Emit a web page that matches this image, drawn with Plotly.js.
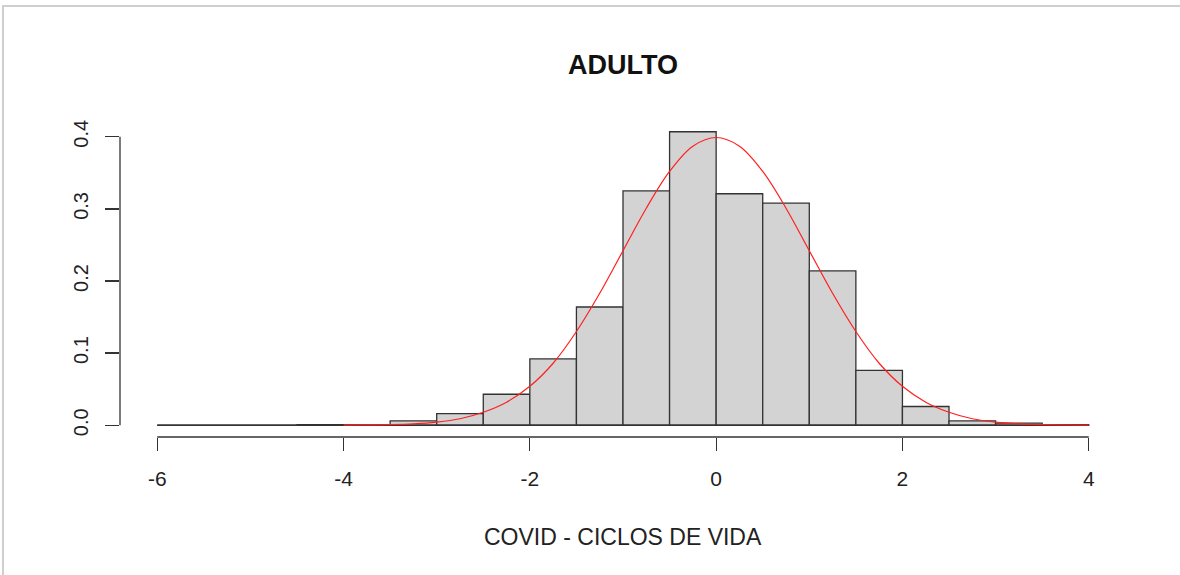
<!DOCTYPE html>
<html>
<head>
<meta charset="utf-8">
<script src="https://cdn.plot.ly/plotly-3.0.1.min.js"></script>
<style>
  html, body { margin: 0; padding: 0; background: #fff; }
  #wrap { position: relative; width: 1180px; height: 575px; overflow: hidden; }
  #chart { position: absolute; left: 0; top: 0; width: 1180px; height: 575px; }
  #frame { position: absolute; left: 2px; top: 5px; width: 1200px; height: 600px;
           border-top: 2px solid #cfcfcf; border-left: 2px solid #cfcfcf; pointer-events: none; }
</style>
</head>
<body>
<div id="wrap">
  <div id="chart"></div>
  <div id="frame"></div>
</div>
<script>
// Histogram breaks (bin edges) and densities
const breaks = [-6, -5.5, -5, -4.5, -4, -3.5, -3, -2.5, -2, -1.5, -1, -0.5, 0, 0.5, 1, 1.5, 2, 2.5, 3, 3.5, 4];
const density = [0, 0, 0, 0.001, 0.0005, 0.006, 0.016, 0.043, 0.092, 0.164, 0.325, 0.407, 0.321, 0.308, 0.214, 0.076, 0.026, 0.006, 0.003, 0.001];

// Red density curve points
const curveX = [-4, -3.75, -3.5, -3.25, -3, -2.75, -2.5, -2.25, -2, -1.75, -1.5, -1.25, -1, -0.75, -0.5, -0.25, 0, 0.25, 0.5, 0.75, 1, 1.25, 1.5, 1.75, 2, 2.25, 2.5, 2.75, 3, 3.25, 3.5, 3.75, 4];
const curveY = [0.0001, 0.0004, 0.0009, 0.002, 0.0044, 0.009, 0.018, 0.032, 0.054, 0.086, 0.130, 0.183, 0.242, 0.301, 0.352, 0.387, 0.399, 0.387, 0.352, 0.301, 0.242, 0.183, 0.130, 0.086, 0.054, 0.032, 0.018, 0.009, 0.0044, 0.002, 0.0009, 0.0004, 0.0001];

const xTicks = [-6, -4, -2, 0, 2, 4];
const yTicks = [0.0, 0.1, 0.2, 0.3, 0.4];
const yTickText = ['0.0', '0.1', '0.2', '0.3', '0.4'];

const titleText = 'ADULTO';
const xTitleText = 'COVID - CICLOS DE VIDA';

const centers = [], widths = [];
for (let i = 0; i < density.length; i++) {
  centers.push((breaks[i] + breaks[i + 1]) / 2);
  widths.push(breaks[i + 1] - breaks[i]);
}

const xMin = breaks[0], xMax = breaks[breaks.length - 1];
const xPad = (xMax - xMin) * 0.04;
const yMax = Math.max(...density);
const yPad = yMax * 0.04;

const traces = [
  {
    type: 'bar', x: centers, y: density, width: widths,
    marker: { color: '#d3d3d3', line: { color: '#333333', width: 1.3 } },
    hoverinfo: 'x+y', showlegend: false
  },
  {
    type: 'scatter', mode: 'lines', x: [xMin, xMax], y: [0, 0],
    line: { color: '#333333', width: 1.3 }, hoverinfo: 'skip', showlegend: false
  },
  {
    type: 'scatter', mode: 'lines', x: curveX, y: curveY,
    line: { color: '#ff2020', width: 1.2, shape: 'spline' }, hoverinfo: 'skip', showlegend: false
  }
];

const font = 'Liberation Sans, Arial, sans-serif';

const layout = {
  width: 1180, height: 575,
  margin: { l: 120, r: 54, t: 120, b: 138, pad: 0 },
  paper_bgcolor: 'rgba(0,0,0,0)', plot_bgcolor: 'rgba(0,0,0,0)',
  bargap: 0,
  showlegend: false,
  title: {
    text: '<b>' + titleText + '</b>',
    font: { family: font, size: 27, color: '#111' },
    x: 0.5, xref: 'paper', y: 1 - 65 / 575, yref: 'container', yanchor: 'middle'
  },
  xaxis: {
    range: [xMin - xPad, xMax + xPad],
    tickvals: xTicks, ticktext: xTicks.map(v => v < 0 ? '-' + Math.abs(v) : String(v)),
    ticks: 'outside', ticklen: 13, tickwidth: 1.3, tickcolor: '#333',
    ticklabelstandoff: 10,
    showline: false, showgrid: false, zeroline: false,
    tickfont: { family: font, size: 21, color: '#222' },
    fixedrange: true
  },
  yaxis: {
    range: [-yPad, yMax + yPad],
    tickvals: yTicks, ticktext: yTickText, tickangle: -90,
    ticks: 'outside', ticklen: 14, tickwidth: 1.3, tickcolor: '#333',
    ticklabelstandoff: 9,
    showline: false, showgrid: false, zeroline: false,
    tickfont: { family: font, size: 20, color: '#222' },
    fixedrange: true
  },
  shapes: [
    { type: 'line', xref: 'x', yref: 'paper', x0: xTicks[0], x1: xTicks[xTicks.length - 1], y0: 0, y1: 0,
      line: { color: '#333', width: 1.3 } },
    { type: 'line', xref: 'paper', yref: 'y', x0: 0, x1: 0, y0: yTicks[0], y1: yTicks[yTicks.length - 1],
      line: { color: '#333', width: 1.3 } }
  ],
  annotations: [
    { text: xTitleText, xref: 'paper', yref: 'paper', x: 0.5, y: (437 - 537) / 317,
      xanchor: 'center', yanchor: 'middle', showarrow: false,
      font: { family: font, size: 23, color: '#222' } }
  ]
};

Plotly.newPlot('chart', traces, layout, { displayModeBar: false, staticPlot: true });
</script>
</body>
</html>
